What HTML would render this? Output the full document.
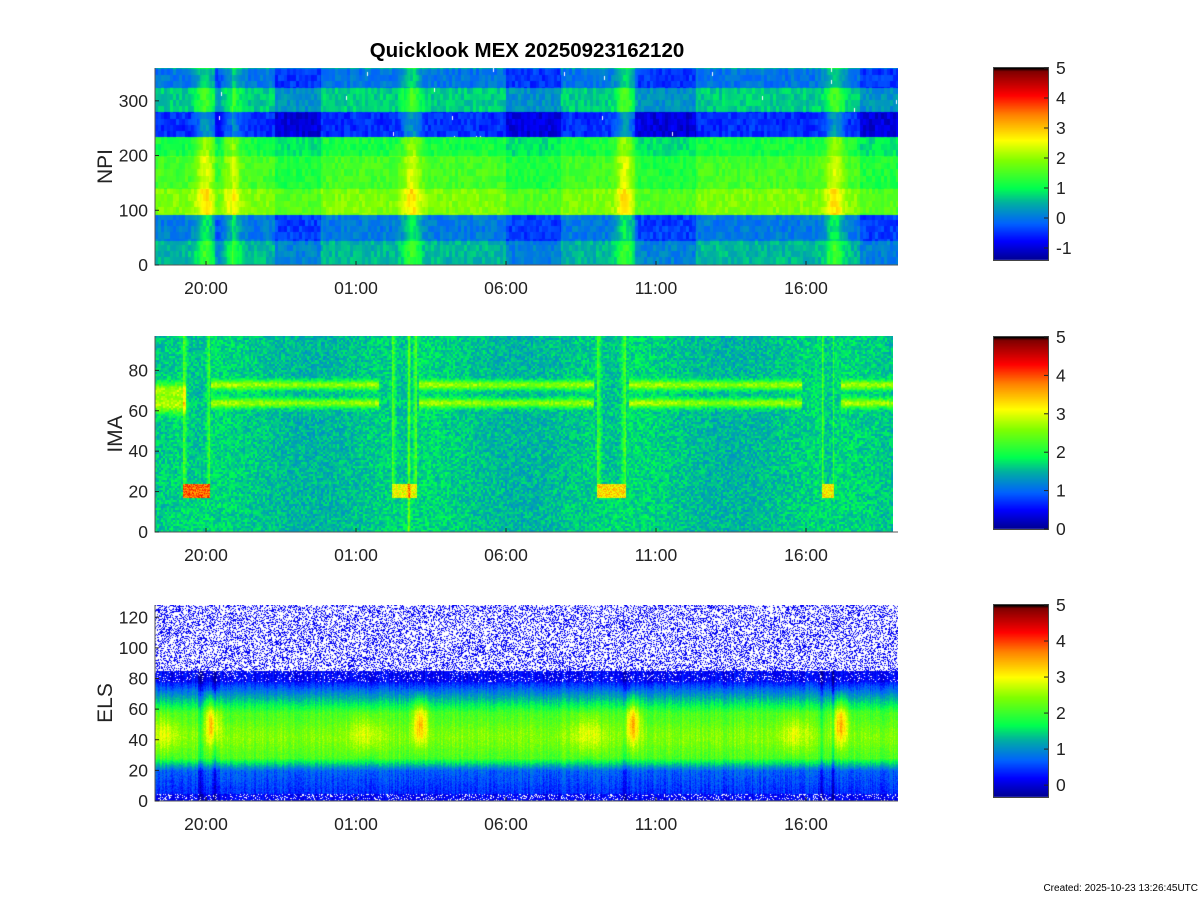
<!DOCTYPE html>
<html><head><meta charset="utf-8">
<style>
html,body{margin:0;padding:0;background:#fff;}
#root{position:relative;width:1200px;height:900px;overflow:hidden;font-family:"Liberation Sans",sans-serif;}
canvas{position:absolute;}
svg{position:absolute;left:0;top:0;}
</style></head>
<body>
<div id="root">
<canvas id="c1" style="left:155px;top:68px" width="743" height="197"></canvas>
<canvas id="c2" style="left:155px;top:336px" width="738" height="196"></canvas>
<canvas id="c3" style="left:155px;top:605px" width="743" height="196"></canvas>
<canvas id="cb1" style="left:993px;top:68px" width="55" height="197"></canvas>
<canvas id="cb2" style="left:993px;top:337px" width="55" height="195"></canvas>
<canvas id="cb3" style="left:993px;top:605px" width="55" height="196"></canvas>
<svg id="ov" width="1200" height="900"></svg>
</div>
<script>
// ---- data ----
const timeTickLabels = ["20:00","01:00","06:00","11:00","16:00"];
const timeTickHours = [1.7,6.7,11.7,16.7,21.7]; // hours since plot start
const npiTicks = [0,100,200,300];
const imaTicks = [0,20,40,60,80];
const elsTicks = [0,20,40,60,80,100,120];
const cb1Ticks = [5,4,3,2,1,0,-1];
const cb2Ticks = [5,4,3,2,1,0];
const cb3Ticks = [5,4,3,2,1,0];
// NPI bands (NPI units) and base log-levels
const npiBandEdges = [0,45,92,140,200,235,280,325,360];
const npiBandLevels = [0.55,0.05,1.9,1.5,1.15,-0.5,0.7,0.0];
// crossing events (hours since start)
const eventHours = [1.67,2.5,8.55,15.65,22.65];
const quietWindows = [[2.0,2.55],[4.0,5.5],[11.7,13.5],[16.0,18.0],[23.5,24.8]];
// IMA
const imaLineMasses = [64,73];
const imaLineSegs = [[0,1.0],[1.85,7.45],[8.77,14.6],[15.77,21.55],[22.85,24.6]];
const imaDescents = [[0.93,1.83],[7.9,8.7],[14.73,15.67],[22.23,22.63]];
const imaDescentPeak = [4.3,3.5,3.7,3.6];
const imaSpikeHour = 8.45;
// ELS
const elsMainEvents = [1.9,8.83,15.9,22.83];
const elsSubEvents = [0.3,7.0,14.4,21.3];
const elsDropouts = [1.5,1.98,15.65,22.2,22.6];
</script>
<script>
const T0X=155, PXH=30;
const hx = h => T0X + h*PXH;
function hash(a,b){let n=(a*374761393+b*668265263)|0;n=(n^(n>>>13))*1274126177|0;return ((n^(n>>>16))>>>0)/4294967295;}
const stops=[[0,[0,0,143]],[0.1,[0,0,255]],[0.19,[0,96,255]],[0.3,[0,176,160]],[0.375,[0,255,80]],[0.52,[128,255,0]],[0.625,[255,255,0]],[0.76,[255,128,0]],[0.86,[255,0,0]],[0.985,[128,0,0]],[1,[0,0,0]]];
function cmap(f){ if(f<0)f=0; if(f>1)f=1;
 for(let i=1;i<stops.length;i++){ if(f<=stops[i][0]){const a=stops[i-1],b=stops[i];const t=(f-a[0])/(b[0]-a[0]);return [0,1,2].map(k=>Math.round(a[1][k]+(b[1][k]-a[1][k])*t));}}
 return [0,0,0];}
function fill(id,fn){const c=document.getElementById(id),ctx=c.getContext('2d');const im=ctx.createImageData(c.width,c.height);
 for(let y=0;y<c.height;y++)for(let x=0;x<c.width;x++){const r=fn(x,y);const i=(y*c.width+x)*4;
  if(r===null){im.data[i]=im.data[i+1]=im.data[i+2]=255;}else{im.data[i]=r[0];im.data[i+1]=r[1];im.data[i+2]=r[2];}im.data[i+3]=255;}
 ctx.putImageData(im,0,0);}
const g=(d,w)=>Math.exp(-(d*d)/(w*w));
// Panel 1 NPI: range -1.4..5
fill('c1',(x,y)=>{
 const h=x/PXH, npi=(197-y)/197*360;
 let b=0; for(let i=0;i<npiBandLevels.length;i++){if(npi>=npiBandEdges[i]&&npi<npiBandEdges[i+1])b=i;}
 let v=npiBandLevels[b];
 const col=Math.floor(x/3), row=Math.floor(y/6.3);
 for(const w of quietWindows){ if(h>=w[0]&&h<=w[1]) v-= (v>1?0.3:0.45); }
 let ev=0; for(const e of eventHours){ ev=Math.max(ev,g(h-e,0.3)); }
 v+=ev*(npi<235?0.9:0.8);
 v+=(hash(col,row)-0.5)*0.45;
 if(npi>235 && hash(x,y>>2)>0.9985) return null;
 return cmap((v+1.4)/6.4);
});
// Panel 2 IMA: range 0..5, mass 0..97
fill('c2',(x,y)=>{
 const h=x/PXH, m=(196-y)/196*97;
 let v=1.6+(hash(x>>1,y>>1)-0.5)*0.5 + 0.1*Math.sin(h*0.9);
 for(let i=0;i<imaLineSegs.length;i++){const s=imaLineSegs[i];
  if(h>=s[0]&&h<=s[1]){ for(const lm of imaLineMasses){ const mm = i===0? (lm===64?63:70):lm; v+=1.1*g(m-mm,i===0?4:2.2);} } }
 for(let i=0;i<imaDescents.length;i++){const d=imaDescents[i];
  if(h>=d[0]&&h<=d[1]){ const fr=(h-d[0])/(d[1]-d[0]);
   const edge=Math.max(g(fr,0.12),g(fr-1,0.12));
   if(m>24) v+=edge*0.7 - 0.1;
   if(m>=17&&m<=24) v=imaDescentPeak[i]-(hash(x,y)*0.8);
  } }
 v+=0.9*g(h-imaSpikeHour,0.04);
 return cmap(v/5);
});
// Panel 3 ELS: range -0.45..5, energy 0..128
fill('c3',(x,y)=>{
 const h=x/PXH, e=(196-y)/196*128;
 const r=hash(x,y);
 if(e>85){ return r<0.35?cmap(0.09):null; }
 let v;
 if(e<5) v=0.1; else if(e<20) v=0.3+ (e-5)*0.02; else if(e<28) v=0.6+(e-20)*0.17;
 else if(e<58) v=2.0+0.35*g(e-42,10); else if(e<78) v=2.0-(e-58)*0.09; else v=0.1;
 let boost=0; for(const c of elsMainEvents) boost=Math.max(boost,g(h-c,0.25));
 let sub=0; for(const c of elsSubEvents) sub=Math.max(sub,g(h-c,0.5));
 if(e>30&&e<72) v+=boost*1.2*g(e-52,14)+sub*0.5*g(e-45,12);
 let drop=0; for(const c of elsDropouts) drop=Math.max(drop,g(h-c,0.07));
 v-=drop*0.5;
 v+=(hash(x,7)-0.5)*0.35+(r-0.5)*0.35;
 if(e<5 && r>0.82) return null;
 if(e>78 && r>0.9) return null;
 return cmap((v+0.45)/5.45);
});
// colorbars
function bar(id,lo,hi,white){const c=document.getElementById(id),ctx=c.getContext('2d');
 const H=c.height-(white||0);
 for(let y=0;y<H;y++){const f=1-y/H;const col=cmap(f);ctx.fillStyle=`rgb(${col})`;ctx.fillRect(0,y,c.width,1);}
 ctx.fillStyle='#fff';ctx.fillRect(0,H,c.width,c.height-H);}
bar('cb1',-1.4,5,5);bar('cb2',0,5,3);bar('cb3',-0.45,5,4);
// overlay
const NS='http://www.w3.org/2000/svg', ov=document.getElementById('ov');
function el(tag,attrs,txt){const e=document.createElementNS(NS,tag);for(const k in attrs)e.setAttribute(k,attrs[k]);if(txt!==undefined)e.textContent=txt;ov.appendChild(e);return e;}
function panel(name,top,bottom,right,vmax,ticks,label){
 const ax=el('path',{d:`M155 ${top}V${bottom}H${right}`,stroke:'#555',fill:'none','stroke-width':1});
 
 
 ticks.forEach(t=>{const y=bottom-(t/vmax)*(bottom-top);
  el('path',{d:`M155 ${y}h4`,stroke:'#222'});
  const tx=el('text',{x:148,y:y+6,'text-anchor':'end','font-size':17.5,fill:'#222'},String(t));
  
  });
 timeTickHours.forEach((h,i)=>{const x=hx(h);
  el('path',{d:`M${x} ${bottom}v-4`,stroke:'#222'});
  const tx=el('text',{x:x,y:bottom+29,'text-anchor':'middle','font-size':17.5,fill:'#222'},timeTickLabels[i]);
  
  });
 const yl=el('text',{x:0,y:0,transform:`translate(${label[1]},${(top+bottom)/2}) rotate(-90)`,'text-anchor':'middle','font-size':21,fill:'#222'},label[0]);
 
 
}
panel('npi',68,265,898,360,npiTicks,['NPI',112]);
panel('ima',336,532,898,97,imaTicks,['IMA',122]);
panel('els',605,801,898,128,elsTicks,['ELS',112]);
function cbTicks(name,top,bottom,lo,hi,ticks){
 el('rect',{x:993.5,y:top-0.5,width:55,height:bottom-top+1,fill:'none',stroke:'#444'});
 ticks.forEach(t=>{const y=bottom-(t-lo)/(hi-lo)*(bottom-top);
  el('path',{d:`M1044 ${y}h4`,stroke:'#222'});
  const tx=el('text',{x:1056,y:y+6,'font-size':17.5,fill:'#222'},String(t));
  
  });}
cbTicks('npi',68,260,-1.4,5,cb1Ticks);
cbTicks('ima',337,529,0,5,cb2Ticks);
cbTicks('els',605,797,-0.33,5,cb3Ticks);
const title=el('text',{x:527,y:57,'text-anchor':'middle','font-size':20.5,'font-weight':'bold',fill:'#000'},'Quicklook MEX 20250923162120');


const cr=el('text',{x:1198,y:891,'text-anchor':'end','font-size':10,fill:'#000'},'Created: 2025-10-23 13:26:45UTC');


</script>
</body></html>
